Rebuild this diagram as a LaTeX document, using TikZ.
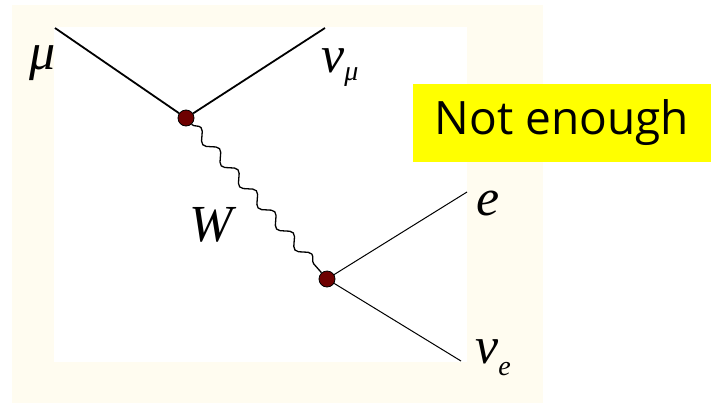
\documentclass[tikz,border=0pt]{standalone}
\usepackage{fontspec}
\setmainfont{Liberation Serif}
\newfontfamily\notefont{Open Sans}
\usetikzlibrary{decorations.pathmorphing}

\definecolor{cream}{RGB}{255,252,240}
\definecolor{vertexred}{RGB}{110,0,0}
\definecolor{noteyellow}{RGB}{255,255,0}

\tikzset{
    vertex/.style={circle, draw=black, fill=vertexred, line width=0.8pt, inner sep=0pt, minimum size=16pt},
    fermion/.style={line width=1.8pt},
    thinfermion/.style={line width=1pt},
    boson/.style={line width=1.3pt, decorate, decoration={snake, segment length=28pt, amplitude=5pt}},
    particle/.style={inner sep=0pt, font=\fontsize{52}{52}\selectfont\itshape},
}
\newcommand{\sublabel}[1]{{\fontsize{28}{28}\selectfont #1}}

\begin{document}
\begin{tikzpicture}[x=1pt,y=-1pt]
            \useasboundingbox[fill=white] (0,0) rectangle (715,405);
            \fill[cream] (12,5) rectangle (543,403);
            \fill[white] (54,27) rectangle (467,362);
            % vertices and free ends
            \node[vertex] (v1) at (186,118) {};
            \node[vertex] (v2) at (327,279) {};
            \coordinate (muend) at (55,28);
            \coordinate (numuend) at (325,28);
            \coordinate (eend) at (467,192);
            \coordinate (nueend) at (461,361);
            \draw[fermion] (muend) -- (v1);
            \draw[fermion] (v1) -- (numuend);
            \draw[boson] (v1) -- (v2);
            \draw[thinfermion] (v2) -- (eend);
            \draw[thinfermion] (v2) -- (nueend);
            % labels
            \node[particle] (mu) at (43,63) {μ};
            \node[particle, anchor=base west] (numu) at (321,72) {ν\raisebox{-8pt}{\sublabel{μ}}};
            \node[particle] (W) at (211,225) {W};
            \node[particle] (e) at (488,203) {e};
            \node[particle, anchor=base west] (nue) at (475,363) {ν\raisebox{-12pt}{\sublabel{e}}};
            \node[fill=noteyellow, minimum width=298pt, minimum height=78pt, inner sep=0pt,
                  font=\notefont\fontsize{46}{46}\selectfont] (note) at (562,123) {Not enough};
        \end{tikzpicture}
\end{document}
